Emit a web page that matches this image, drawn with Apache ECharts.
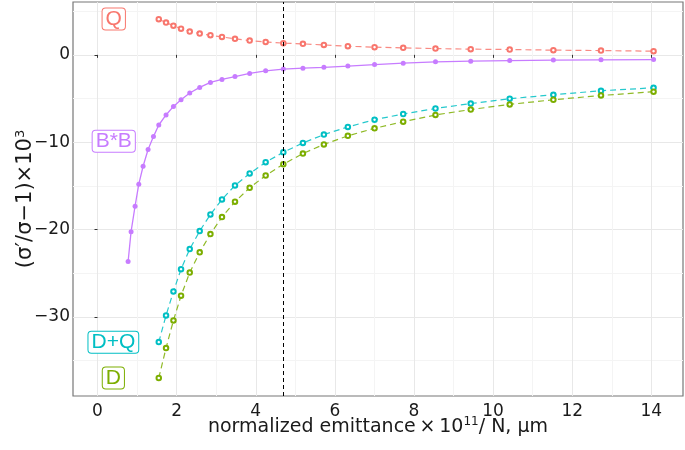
<!DOCTYPE html>
<html><head><meta charset="utf-8">
<script src="https://cdn.jsdelivr.net/npm/echarts@6/dist/echarts.min.js"></script>
<style>html,body{margin:0;padding:0;background:#fff}#c{width:685px;height:450px}</style>
</head><body><div id="c"></div>
<script>
// emittance values (x) shared by Q, D+Q, D
const xMain = [1.548,1.732,1.919,2.111,2.331,2.583,2.854,3.146,3.475,3.846,4.250,4.697,5.192,5.722,6.328,7.003,7.727,8.543,9.434,10.419,11.523,12.727,14.056];
const xBBextra = [0.773,0.848,0.949,1.043,1.152,1.278,1.414];
const yQ = [4.08,3.69,3.34,3.00,2.66,2.43,2.25,2.05,1.83,1.63,1.48,1.34,1.26,1.14,0.99,0.88,0.80,0.72,0.65,0.61,0.54,0.49,0.42];
const yBB = [-23.66,-20.24,-17.32,-14.8,-12.75,-10.84,-9.36,-8.03,-6.88,-5.9,-5.14,-4.37,-3.73,-3.16,-2.82,-2.48,-2.13,-1.83,-1.63,-1.52,-1.43,-1.29,-1.11,-0.95,-0.80,-0.72,-0.65,-0.60,-0.57,-0.54];
const yDQ = [-32.88,-29.83,-27.08,-24.54,-22.23,-20.17,-18.26,-16.55,-14.95,-13.58,-12.29,-11.15,-10.08,-9.13,-8.25,-7.42,-6.77,-6.14,-5.57,-5.02,-4.57,-4.11,-3.77];
const yD = [-36.99,-33.56,-30.4,-27.57,-24.92,-22.6,-20.51,-18.57,-16.81,-15.22,-13.81,-12.52,-11.3,-10.25,-9.27,-8.41,-7.65,-6.88,-6.26,-5.67,-5.14,-4.65,-4.22];
const refLineX = 4.7;
const xMajor = [0,2,4,6,8,10,12,14];
const xMinor = [1,3,5,7,9,11,13];
const yMajor = [-30,-20,-10,0];
const yMinor = [-35,-25,-15,-5,5];
const seriesNames = ['Q','B*B','D+Q','D'];
const labelX = [0.41,0.41,0.40,0.40];
const labelY = [4.1,-9.9,-32.9,-37.0];

const colors = {'Q':'#F8766D','B*B':'#C77CFF','D+Q':'#00BFC4','D':'#7CAE00'};
const xBB = xBBextra.concat(xMain);
const zip = (xs, ys) => xs.map((x,i)=>[x, ys[i]]);
const fmtNum = v => v < 0 ? '\u2212' + Math.abs(v) : String(v);

const chart = echarts.init(document.getElementById('c'), null, {renderer:'canvas'});
const XMIN = -0.62, XMAX = 14.8, YMIN = -39.05, YMAX = 6.05;
const FONT = 'DejaVu Sans, sans-serif';
const axisFont = {color:'#1a1a1a', fontSize:17, fontFamily:FONT};

function dashedSeries(name, data) {
  return {
    name, type:'line', data, xAxisIndex:0, yAxisIndex:0,
    symbol:'emptyCircle', symbolSize:4.5, showSymbol:true,
    lineStyle:{color:colors[name], width:1.2, type:[6,4], opacity:0.85},
    itemStyle:{color:colors[name], borderWidth:1},
    emphasis:{disabled:true}, animation:false, z:3
  };
}

const option = {
  animation:false,
  backgroundColor:'#fff',
  grid:{left:73, right:2, top:2, bottom:54, outerBoundsMode:'none', containLabel:false,
        show:true, borderColor:'#777', borderWidth:1.2, backgroundColor:'transparent'},
  xAxis:[
    {type:'value', min:XMIN, max:XMAX, position:'bottom',
     axisLine:{show:false}, 
     axisTick:{show:true, length:3, customValues:xMajor, lineStyle:{color:'#333'}},
     axisLabel:Object.assign({customValues:xMajor, margin:7}, axisFont),
     splitLine:{show:true, lineStyle:{color:'#e8e8e8', width:1}},
     name:'{a|normalized emittance\u2009\u00d7\u200910}{s|11}{a|/ N, \u03bcm}',
     nameLocation:'middle', nameGap:20, nameMoveOverlap:false,
     nameTextStyle:{rich:{a:{fontSize:19, color:'#1a1a1a', fontFamily:FONT}, s:{fontSize:12, color:'#1a1a1a', padding:[0,0,10,0], fontFamily:FONT}}}
    },
    {type:'value', min:XMIN, max:XMAX, position:'bottom', show:true,
     axisLine:{show:false}, axisTick:{show:false, customValues:xMinor}, axisLabel:{show:false, customValues:xMinor},
     splitLine:{show:true, lineStyle:{color:'#f4f4f4', width:1}}}
  ],
  yAxis:[
    {type:'value', min:YMIN, max:YMAX, position:'left',
     axisLine:{show:false},
     axisTick:{show:true, length:3, customValues:yMajor, lineStyle:{color:'#333'}},
     axisLabel:Object.assign({customValues:yMajor, margin:3, formatter:fmtNum}, axisFont),
     splitLine:{show:true, lineStyle:{color:'#e8e8e8', width:1}},
     name:'{a|(\u03c3\u2032/\u03c3\u22121)\u00d710}{s|3}',
     nameLocation:'middle', nameGap:35, nameRotate:90, nameMoveOverlap:false,
     nameTextStyle:{rich:{a:{fontSize:21, color:'#1a1a1a', fontFamily:FONT}, s:{fontSize:13, color:'#1a1a1a', padding:[0,0,11,0], fontFamily:FONT}}}
    },
    {type:'value', min:YMIN, max:YMAX, position:'left', show:true,
     axisLine:{show:false}, axisTick:{show:false, customValues:yMinor}, axisLabel:{show:false, customValues:yMinor},
     splitLine:{show:true, lineStyle:{color:'#f4f4f4', width:1}}}
  ],
  series:[
    Object.assign(dashedSeries('Q', zip(xMain, yQ)), {
      markLine:{silent:true, symbol:['none','none'], label:{show:false},
        lineStyle:{color:'#000', type:[4,3], width:1}, data:[{xAxis:refLineX}]}
    }),
    {name:'B*B', type:'line', data:zip(xBB, yBB), symbol:'circle', symbolSize:5,
     lineStyle:{color:colors['B*B'], width:1.3},
     itemStyle:{color:colors['B*B']}, emphasis:{disabled:true}, z:3},
    dashedSeries('D+Q', zip(xMain, yDQ)),
    dashedSeries('D', zip(xMain, yD)),
    {name:'labels', type:'scatter', symbolSize:0, z:5, silent:true,
     data: seriesNames.map((n,i)=>({value:[labelX[i], labelY[i], n],
       label:{color:colors[n], borderColor:colors[n]}})),
     label:{show:true, position:'inside', formatter:p=>p.value[2],
       fontSize:21, fontFamily:'Liberation Sans, Arial, sans-serif',
       backgroundColor:'#fff', borderWidth:1, borderRadius:3, padding:[0,3], lineHeight:21, opacity:1}
    }
  ]
};
chart.setOption(option);
</script></body></html>
